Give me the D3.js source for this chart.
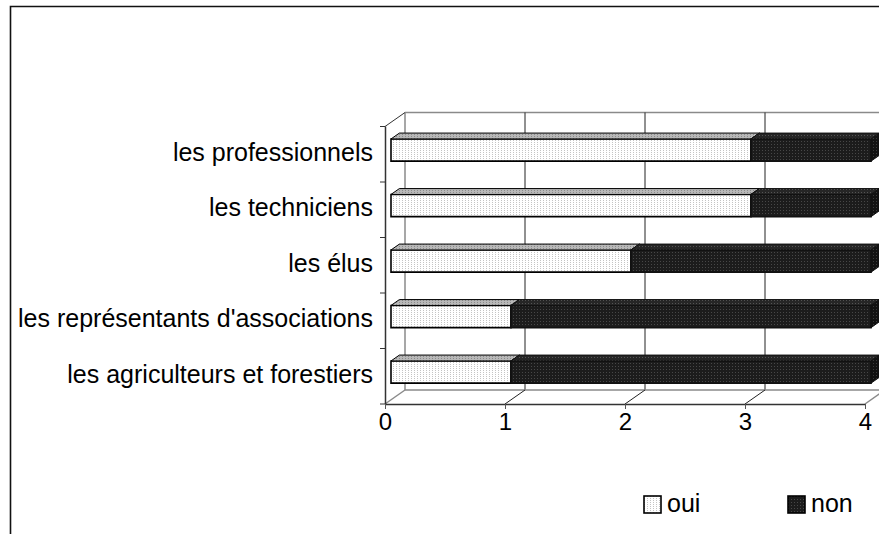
<!DOCTYPE html>
<html>
<head>
<meta charset="utf-8">
<script src="https://cdn.jsdelivr.net/npm/d3@7"></script>
<style>
  html, body { margin: 0; padding: 0; background: #fff; }
  svg { display: block; font-family: Arial, "Liberation Sans", sans-serif; }
</style>
</head>
<body>
<svg id="chart" width="879" height="534"></svg>
<script>
// Categories, top to bottom
const categories = [
  "les professionnels",
  "les techniciens",
  "les élus",
  "les représentants d'associations",
  "les agriculteurs et forestiers"
];
const oui = [3, 3, 2, 1, 1];
const non = [1, 1, 2, 3, 3];
const seriesNames = ["oui", "non"];
const tickValues = [0, 1, 2, 3, 4];

const svg = d3.select("#chart");
const W = 879, H = 534;

// Front plane of the 3D plot area and its depth offset
const x = d3.scaleLinear().domain([0, 4]).range([385, 865]);
const y = d3.scaleBand().domain(categories).range([126.5, 404]).paddingInner(0).paddingOuter(0);
const depth = { dx: 20, dy: -14 };
const f1 = 0.3, f2 = 0.72;        // bar front / back position inside the depth
const barFrac = 0.40;             // bar thickness as part of a band

// Fill patterns
const defs = svg.append("defs");
function pattern(id, bg, dot, w, h, dots) {
  const p = defs.append("pattern").attr("id", id).attr("patternUnits", "userSpaceOnUse")
    .attr("width", w).attr("height", h);
  p.append("rect").attr("width", w).attr("height", h).attr("fill", bg);
  dots.forEach(d => p.append("rect").attr("x", d[0]).attr("y", d[1]).attr("width", 1).attr("height", 1).attr("fill", dot));
}
pattern("ouiFront", "#ffffff", "#c4c4c4", 3, 2, [[0, 0]]);
pattern("ouiTop", "#b8b8b8", "#8a8a8a", 3, 2, [[0, 0]]);
pattern("nonFront", "#1c1c1c", "#474747", 3, 3, [[0, 0]]);
pattern("nonTop", "#262626", "#555555", 3, 3, [[0, 0]]);
pattern("nonSide", "#111111", "#3a3a3a", 3, 3, [[0, 0]]);
const fills = {
  oui: { front: "url(#ouiFront)", top: "url(#ouiTop)", side: "#8c8c8c", stroke: "#000" },
  non: { front: "url(#nonFront)", top: "url(#nonTop)", side: "url(#nonSide)", stroke: "#111" }
};

// Outer frame
svg.append("path")
  .attr("d", `M10.5,${H} V6.5 H${W}`)
  .attr("fill", "none").attr("stroke", "#111").attr("stroke-width", 1.6);

const x0 = x(0), x4 = x(4), yTop = y.range()[0], yBot = y.range()[1];
const g = svg.append("g");

// Back wall: top edge and vertical gridlines
g.append("line").attr("x1", x0 + depth.dx).attr("x2", x4 + depth.dx)
  .attr("y1", yTop + depth.dy).attr("y2", yTop + depth.dy)
  .attr("stroke", "#8a8a8a").attr("stroke-width", 1.5);
g.selectAll(".vgrid").data(tickValues).join("line")
  .attr("x1", d => x(d) + depth.dx).attr("x2", d => x(d) + depth.dx)
  .attr("y1", yTop + depth.dy).attr("y2", yBot + depth.dy)
  .attr("stroke", d => d === 0 ? "#8a8a8a" : "#222").attr("stroke-width", d => d === 0 ? 1.5 : 1);

// Floor: back edge, tick diagonals, right edge
g.append("line").attr("x1", x0 + depth.dx).attr("x2", x4 + depth.dx)
  .attr("y1", yBot + depth.dy).attr("y2", yBot + depth.dy)
  .attr("stroke", "#8a8a8a").attr("stroke-width", 1.5);
g.selectAll(".fdiag").data(tickValues).join("line")
  .attr("x1", d => x(d)).attr("y1", yBot)
  .attr("x2", d => x(d) + depth.dx).attr("y2", yBot + depth.dy)
  .attr("stroke", d => (d === 0 || d === 4) ? "#8a8a8a" : "#222")
  .attr("stroke-width", d => (d === 0 || d === 4) ? 1.5 : 1);

// Left wall: top diagonal
g.append("line").attr("x1", x0).attr("y1", yTop)
  .attr("x2", x0 + depth.dx).attr("y2", yTop + depth.dy)
  .attr("stroke", "#333").attr("stroke-width", 1);

// Bars (stacked)
const rows = categories.map((c, i) => ({ cat: c, oui: oui[i], non: non[i] }));
const stack = d3.stack().keys(seriesNames)(rows);

const bh = y.bandwidth() * barFrac;
function segPaths(v0, v1, cat) {
  const cy = y(cat) + y.bandwidth() / 2;
  const ax = x(v0) + depth.dx * f1, bx = x(v1) + depth.dx * f1;
  const top = cy - bh / 2 + depth.dy * f1, bot = cy + bh / 2 + depth.dy * f1;
  const ddx = depth.dx * (f2 - f1), ddy = depth.dy * (f2 - f1);
  return {
    front: `M${ax},${top} H${bx} V${bot} H${ax} Z`,
    top: `M${ax},${top} L${ax + ddx},${top + ddy} H${bx + ddx} L${bx},${top} Z`,
    side: `M${bx},${top} L${bx + ddx},${top + ddy} V${bot + ddy} L${bx},${bot} Z`
  };
}
stack.forEach(series => {
  const f = fills[series.key];
  const sg = g.append("g").attr("class", "series-" + series.key);
  series.forEach(d => {
    const p = segPaths(d[0], d[1], d.data.cat);
    sg.append("path").attr("d", p.front).attr("fill", f.front).attr("stroke", f.stroke).attr("stroke-width", 1.6);
    sg.append("path").attr("d", p.top).attr("fill", f.top).attr("stroke", f.stroke).attr("stroke-width", 1);
    sg.append("path").attr("d", p.side).attr("fill", f.side).attr("stroke", f.stroke).attr("stroke-width", 1);
  });
});

// Value axis (front floor edge)
const xAxis = svg.append("g").attr("transform", `translate(0,${yBot})`)
  .call(d3.axisBottom(x).tickValues(tickValues).tickFormat(d3.format("d")).tickSize(5).tickPadding(4));
xAxis.select(".domain").attr("stroke", "#333").attr("stroke-width", 1.5).attr("d", `M${x0},0.5 H${x4}`);
xAxis.selectAll(".tick line").attr("stroke", "#555");
xAxis.selectAll("text").attr("font-size", 24).attr("fill", "#000").attr("font-family", "Arial, 'Liberation Sans', sans-serif");

// Category axis (left front edge)
const yAxis = svg.append("g").attr("transform", `translate(${x0},0)`)
  .call(d3.axisLeft(y).tickSize(0).tickPadding(12));
yAxis.select(".domain").attr("stroke", "#333").attr("stroke-width", 1.5).attr("d", `M0.5,${yTop} V${yBot}`);
yAxis.selectAll("text").attr("font-size", 25).attr("fill", "#000").attr("dy", "0.25em")
  .attr("font-family", "Arial, 'Liberation Sans', sans-serif");
// Band boundary marks
const bounds = categories.map(c => y(c)).concat([yBot]);
yAxis.selectAll(".bmark").data(bounds).join("line")
  .attr("x1", -5).attr("x2", 0).attr("y1", d => d).attr("y2", d => d)
  .attr("stroke", "#333").attr("stroke-width", 1);

// Legend
const legend = svg.append("g");
const legendX = [644, 788];
seriesNames.forEach((s, i) => {
  const lg = legend.append("g").attr("transform", `translate(${legendX[i]},496)`);
  lg.append("rect").attr("width", 17).attr("height", 17)
    .attr("fill", fills[s].front).attr("stroke", "#000").attr("stroke-width", 1.6);
  lg.append("text").attr("x", 23).attr("y", 15.5).attr("font-size", 25).text(s);
});
</script>
</body>
</html>
